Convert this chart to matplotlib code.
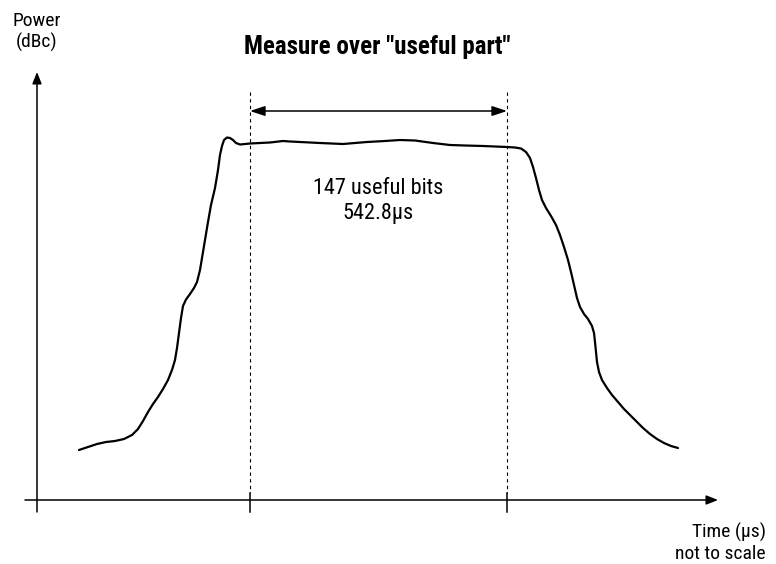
import matplotlib
matplotlib.use("Agg")
import matplotlib.pyplot as plt
from matplotlib import font_manager

# ---- data (drawing units: time to the right, power upwards = smaller y) ----
curve_x = [79, 88, 97, 106, 115, 124, 132, 138, 143, 148, 153, 158, 163, 168, 172,
           175, 177, 179, 181, 183, 186, 190, 194, 197, 200, 202, 205, 208, 211, 215,
           218, 220, 222, 224, 227, 230, 233, 236, 240, 245, 250,
           260, 270, 283, 290, 300, 320, 343, 355, 367, 385, 400, 415, 433, 450, 465,
           483, 495,
           507, 515, 521, 526, 530, 533, 536, 539, 542, 546, 551, 556, 560, 564, 568,
           571, 574, 577, 580, 584, 588, 592, 594, 595, 596, 597, 599, 602, 607, 612,
           618, 624, 630, 637, 643, 650, 657, 664, 671, 678]
curve_y = [450, 447, 444, 442, 441, 439, 435, 429, 421, 412, 404, 397, 389, 380, 370,
           360, 348, 333, 318, 306, 299.5, 294, 288, 282, 270, 258, 240, 222, 205, 188,
           170, 155, 146, 140, 137.5, 138, 140, 143, 144.5, 144, 143.5,
           143, 142.5, 141, 141.5, 142, 143, 144, 143, 142, 141, 140, 140.5, 143, 145,
           145.5, 146, 146.5,
           147, 147.5, 148.5, 152, 158, 167, 178, 190, 200, 208, 216, 225, 235, 247,
           260, 272, 285, 298, 307, 314, 319, 326, 333, 342, 352, 362, 372, 380, 388,
           395, 402, 409, 415, 422, 428, 434, 439, 443, 446, 448]
useful_start = 250
useful_end = 507
title_text = 'Measure over "useful part"'
ylabel_text = "Power\n(dBc)"
xlabel_text = "Time (\u03bcs)\nnot to scale"
inner_text = "147 useful bits\n542.8\u03bcs"

names = {f.name for f in font_manager.fontManager.ttflist}
fam = []
for n in ["Roboto Condensed", "Liberation Sans Narrow", "Liberation Sans", "DejaVu Sans"]:
    if n in names:
        fam.append(n)
fam.append("DejaVu Sans")
plt.rcParams["font.family"] = fam

fig = plt.figure(figsize=(7.76, 5.64), dpi=100)
ax = fig.add_axes([0, 0, 1, 1])
ax.set_xlim(0, 776)
ax.set_ylim(564, 0)
ax.axis("off")

# axes with arrows
ap = dict(arrowstyle="-|>,head_length=0.7,head_width=0.28", lw=1.1, color="black",
          shrinkA=0, shrinkB=0, mutation_scale=10)
ax.annotate("", xy=(37, 72), xytext=(37, 512), arrowprops=ap)
ax.annotate("", xy=(718, 500), xytext=(25, 500), arrowprops=ap)

# tick marks
for xt in [useful_start, useful_end]:
    ax.plot([xt, xt], [493, 512], color="black", lw=1.1)

# dotted boundaries
for xt in [useful_start, useful_end]:
    ax.plot([xt, xt], [92, 493], color="black", lw=0.8, dashes=(3, 3))

# double arrow
ap2 = dict(arrowstyle="<|-|>,head_length=0.9,head_width=0.3", lw=1.1, color="black",
           shrinkA=0, shrinkB=0, mutation_scale=10)
ax.annotate("", xy=(useful_end, 111), xytext=(useful_start, 111), arrowprops=ap2)

# curve
ax.plot(curve_x, curve_y, color="black", lw=1.6, solid_capstyle="round",
        solid_joinstyle="round")

# texts
ax.text(377, 47, title_text, ha="center", va="center", fontsize=18, fontweight="bold")
ax.text(37, 32, ylabel_text, ha="center", va="center", fontsize=14, linespacing=1.25)
ax.text(766, 543, xlabel_text, ha="right", va="center", fontsize=14, linespacing=1.25)
ax.text(378, 201, inner_text, ha="center", va="center", fontsize=16, linespacing=1.2)

fig.savefig("out.png", dpi=100)
